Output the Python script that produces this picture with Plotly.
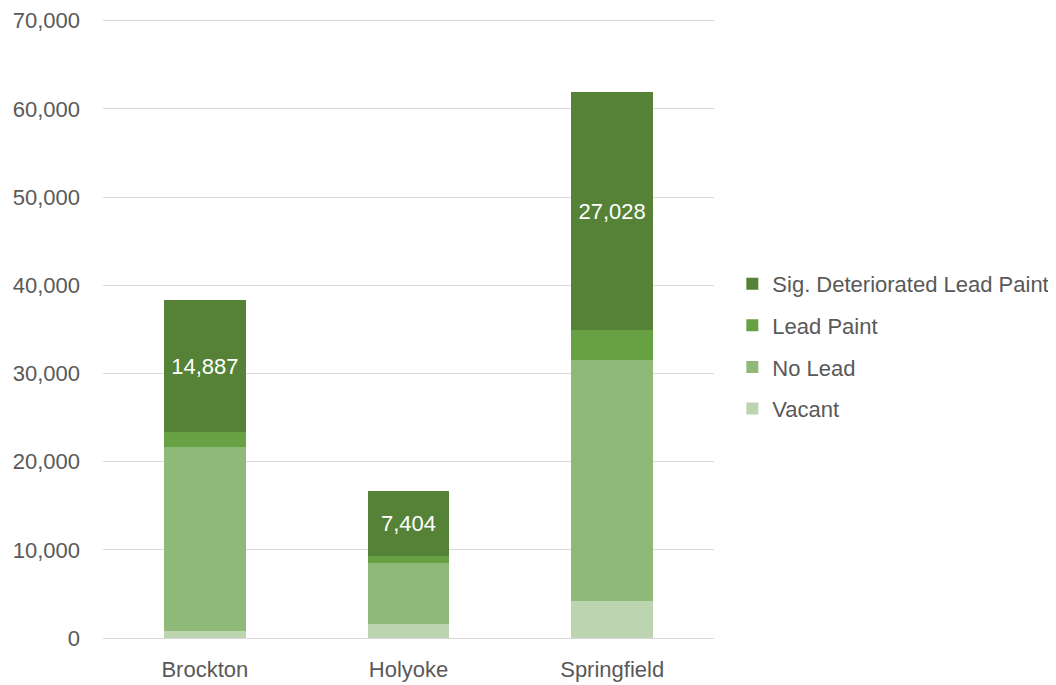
import plotly.graph_objects as go

cities = ["Brockton", "Holyoke", "Springfield"]
vacant = [830, 1590, 4250]
no_lead = [20870, 6880, 27310]
lead_paint = [1700, 830, 3330]
sig_det = [14887, 7404, 27028]

series = [
    ("Vacant", vacant, "#bdd4b0", False),
    ("No Lead", no_lead, "#8fb978", False),
    ("Lead Paint", lead_paint, "#68a044", False),
    ("Sig. Deteriorated Lead Paint", sig_det, "#558236", True),
]

font_family = "Liberation Sans, Arial, sans-serif"
fs = 22

fig = go.Figure()
for i, (name, vals, color, lab) in enumerate(series):
    fig.add_trace(go.Bar(
        x=cities, y=vals, name=name, legendgroup=f"g{i}",
        legendrank=len(series) - i,
        marker=dict(color=color, line=dict(width=0)),
        text=[f"{v:,}" for v in vals] if lab else None,
        texttemplate="%{text}" if lab else None,
        textposition="inside" if lab else "none",
        insidetextanchor="middle",
        textangle=0,
        constraintext="none",
        textfont=dict(color="white", size=fs, family=font_family),
        hoverinfo="x+y+name",
    ))

fig.update_layout(
    barmode="stack",
    bargap=0.6,
    width=1048, height=677,
    margin=dict(l=95, r=342, t=11, b=47, autoexpand=False),
    plot_bgcolor="white", paper_bgcolor="white",
    font=dict(family=font_family, color="#595959", size=fs),
    showlegend=True,
    legend=dict(
        x=1.03, y=0.471, xanchor="left", yanchor="middle",
        traceorder="grouped", tracegroupgap=10,
        font=dict(size=fs, color="#595959"),
        itemwidth=30,
    ),
)
fig.update_yaxes(
    range=[0, 70200], tickvals=[0, 10000, 20000, 30000, 40000, 50000, 60000, 70000],
    tickformat=",",
    showgrid=True, gridcolor="#d9d9d9", gridwidth=1,
    zeroline=True, zerolinecolor="#d9d9d9", zerolinewidth=1,
    showline=False, ticks="", ticklabelstandoff=22, automargin=False,
    tickfont=dict(size=fs, color="#595959"),
)
fig.update_xaxes(
    showgrid=False, showline=False, ticks="", automargin=False,
    ticklabelstandoff=16,
    tickfont=dict(size=fs, color="#595959"),
)

fig.write_html("out.html")
